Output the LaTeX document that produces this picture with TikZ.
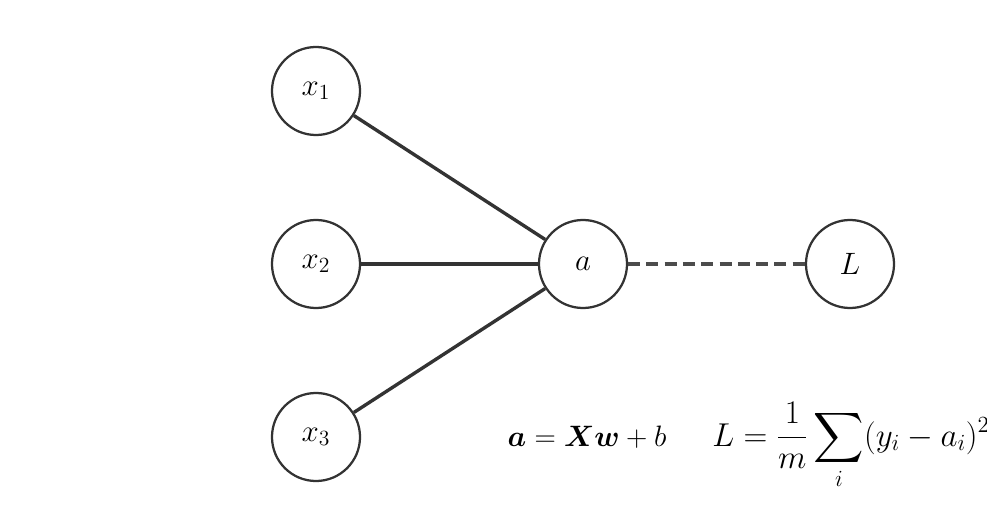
\RequirePackage{fix-cm}
\documentclass[tikz,border=0pt]{standalone}
\usepackage{amsmath}
\usepackage{bm}
\usetikzlibrary{positioning}

\begin{document}
\begin{tikzpicture}[x=0.025cm,y=-0.025cm,
    neuron/.style={circle,draw=black!80,line width=1.6pt,minimum size=2.2cm,inner sep=0pt,
        font=\fontsize{22}{26}\selectfont},
    wire/.style={draw=black!80,line width=2.4pt},
    lossline/.style={draw=black!70,line width=2.4pt,dash pattern=on 8.5pt off 4.5pt},
    formula/.style={anchor=base,font=\fontsize{21}{25}\selectfont}]
    \useasboundingbox (0,0) rectangle (987,525);
    \node[neuron] (x1) at (316,91) {$x_1$};
    \node[neuron] (x2) at (316,264) {$x_2$};
    \node[neuron] (x3) at (316,437) {$x_3$};
    \node[neuron] (a) at (583,264) {$a$};
    \node[neuron] (L) at (850,264) {$L$};
    \draw[wire] (x1) -- (a);
    \draw[wire] (x2) -- (a);
    \draw[wire] (x3) -- (a);
    \draw[lossline] (a) -- (L);
    \node[formula] (fa) at (587,446) {$\bm{a} = \bm{X}\bm{w} + b$};
    \node[formula,font=\fontsize{23.5}{28}\selectfont] (fL) at (851,446) {$\displaystyle L = \frac{1}{m}\sum_{i}(y_i - a_i)^2$};
\end{tikzpicture}
\end{document}
